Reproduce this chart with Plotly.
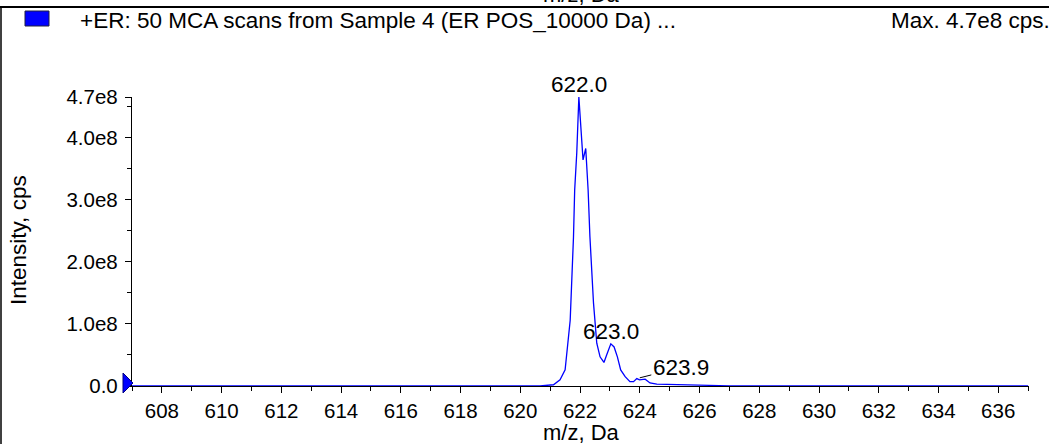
import plotly.graph_objects as go

# ---- data ----
mz = [607.0, 610.0, 615.0, 620.0, 620.66, 621.11, 621.33, 621.50, 621.67, 621.78,
      621.82, 621.89, 621.96, 622.10, 622.19, 622.27, 622.33, 622.45, 622.56, 622.67,
      622.80, 622.89, 623.03, 623.14, 623.25, 623.36, 623.51, 623.67, 623.79, 623.90,
      623.99, 624.18, 624.34, 624.57, 624.90, 625.12, 625.57, 626.02, 626.45, 627.0,
      630.0, 633.0, 637.0]
intensity_e8 = [0, 0, 0, 0, 0, 0.02, 0.10, 0.26, 1.06, 2.40,
                3.16, 3.76, 4.66, 3.645, 3.83, 3.16, 2.41, 1.34, 0.69, 0.47,
                0.38, 0.50, 0.68, 0.63, 0.47, 0.26, 0.15, 0.07, 0.07, 0.12,
                0.10, 0.11, 0.05, 0.03, 0.027, 0.025, 0.01, 0.015, 0.005, 0.003,
                0.002, 0.001, 0]
intensity = [v * 1e8 for v in intensity_e8]

peak_mz = [621.96, 623.03, 623.90]
peak_int = [4.66e8, 0.68e8, 0.12e8]
peak_labels = ["622.0", "623.0", "623.9"]

y_tickvals = [0, 1e8, 2e8, 3e8, 4e8, 4.66e8]
y_ticktext = ["0.0", "1.0e8", "2.0e8", "3.0e8", "4.0e8", "4.7e8"]
y_minor = [0.5e8, 1.5e8, 2.5e8, 3.5e8, 4.5e8]

title_text = "+ER: 50 MCA scans from Sample 4 (ER POS_10000 Da) ..."
max_text = "Max. 4.7e8 cps."
x_title = "m/z, Da"
y_title = "Intensity, cps"

FONT = "Liberation Sans, Arial, sans-serif"
FS_TICK = 20.5
FS_TXT = 22.5
FS_AX = 22

W, H = 1049, 444
L, R, T, B = 132, 20, 97, 58
PW, PH = W - L - R, H - T - B


def px(xp):
    return (xp - L) / PW


def py(yp):
    return (H - B - yp) / PH


fig = go.Figure()
fig.add_trace(go.Scatter(x=mz, y=intensity, mode="lines",
                         line=dict(color="#0000ff", width=1.3),
                         hoverinfo="x+y", showlegend=False))

fig.update_layout(
    width=W, height=H,
    margin=dict(l=L, r=R, t=T, b=B),
    paper_bgcolor="white", plot_bgcolor="white",
    font=dict(family=FONT, size=FS_TXT, color="black"),
    showlegend=False,
)
fig.update_xaxes(
    range=[607.0, 637.03], tickmode="linear", tick0=608, dtick=2,
    ticks="outside", ticklen=6, tickwidth=1.2, tickcolor="black",
    showline=True, linecolor="black", linewidth=1.3,
    showgrid=False, zeroline=False,
    minor=dict(dtick=1, tick0=607, ticks="outside", ticklen=4, tickcolor="black", tickwidth=1, showgrid=False),
    tickfont=dict(size=FS_TICK),
)
fig.update_yaxes(
    range=[0, 4.66e8], tickmode="array", tickvals=y_tickvals, ticktext=y_ticktext,
    ticks="outside", ticklen=6, tickwidth=1.2, tickcolor="black",
    showline=True, linecolor="black", linewidth=1.3,
    showgrid=False, zeroline=False, ticklabelstandoff=3,
    minor=dict(tickmode="array", tickvals=y_minor, ticks="outside", ticklen=4, tickcolor="black", tickwidth=1, showgrid=False),
    tickfont=dict(size=FS_TICK),
)

# peak labels
for i, (xm, yi, lab) in enumerate(zip(peak_mz, peak_int, peak_labels)):
    if i < 2:
        fig.add_annotation(x=xm, y=yi, text=lab, showarrow=False, yanchor="bottom",
                           xanchor="center", yshift=-2, font=dict(size=FS_TXT))
    else:
        fig.add_annotation(x=xm, y=yi, text=lab, showarrow=True, arrowhead=0,
                           arrowwidth=1, arrowcolor="black", ax=44, ay=-11,
                           standoff=3, font=dict(size=FS_TXT))

# axis titles
fig.add_annotation(xref="paper", yref="paper", x=px(581), y=py(432), text=x_title,
                   showarrow=False, xanchor="center", yanchor="middle", borderpad=0,
                   font=dict(size=FS_AX))
fig.add_annotation(xref="paper", yref="paper", x=px(18), y=py(240), text=y_title,
                   textangle=-90, showarrow=False, xanchor="center", yanchor="middle", font=dict(size=FS_TXT))
# cut-off title of the panel above
fig.add_annotation(xref="paper", yref="paper", x=px(581), y=py(-5), text=x_title,
                   showarrow=False, xanchor="center", yanchor="middle", font=dict(size=FS_AX))

# header
fig.add_annotation(xref="paper", yref="paper", x=px(78), y=py(21), text=title_text,
                   showarrow=False, xanchor="left", yanchor="middle", font=dict(size=FS_TXT))
fig.add_annotation(xref="paper", yref="paper", x=px(1052), y=py(21), text=max_text,
                   showarrow=False, xanchor="right", yanchor="middle", font=dict(size=FS_TXT))

# legend swatch
fig.add_shape(type="rect", xref="paper", yref="paper",
              x0=px(25), x1=px(49), y0=py(11), y1=py(26),
              fillcolor="#0000ff", line=dict(color="#202040", width=1))
# panel frame
fig.add_shape(type="line", xref="paper", yref="paper", x0=px(0), x1=px(W + 5), y0=py(7), y1=py(7),
              line=dict(color="black", width=2))
fig.add_shape(type="line", xref="paper", yref="paper", x0=px(1), x1=px(1), y0=py(7), y1=py(H + 5),
              line=dict(color="black", width=1.5))

# baseline marker (blue triangle at the y-axis origin)
fig.add_shape(type="path", xref="paper", yref="paper", xsizemode="pixel", ysizemode="pixel",
              xanchor=0, yanchor=0, path="M -9,13 L 1,3 L -9,-7 Z",
              fillcolor="#0000ff", line=dict(color="#000080", width=1))

fig.write_html("out.html", config={"displayModeBar": False},
               post_script="document.body.style.margin='0';document.body.style.overflow='hidden';")
